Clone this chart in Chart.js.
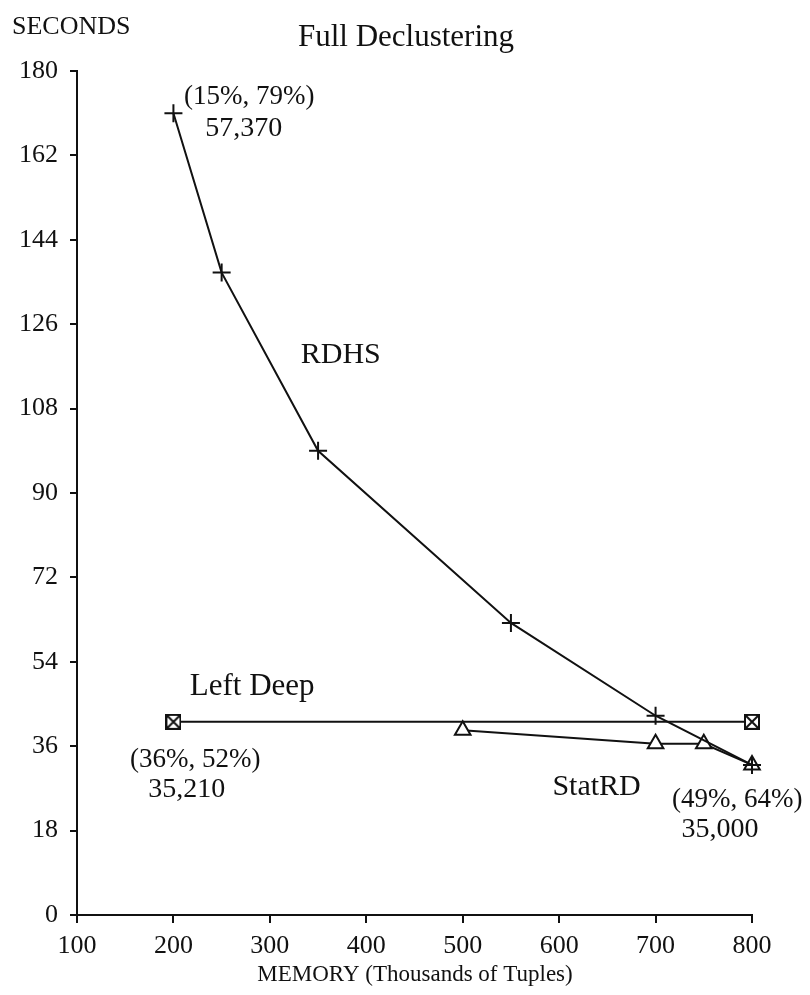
<!DOCTYPE html>
<html>
<head>
<meta charset="utf-8">
<script src="https://cdn.jsdelivr.net/npm/chart.js@4.4.1/dist/chart.umd.min.js"></script>
<style>
  html, body { margin: 0; padding: 0; background: #fff; }
  #wrap { width: 810px; height: 995px; }
</style>
</head>
<body>
<div id="wrap"><canvas id="c" width="810" height="995"></canvas></div>
<script>
// Response time (seconds) against memory (thousands of tuples)
const rdhsMemory = [200, 250, 350, 550, 700, 800];
const rdhsSeconds = [171, 137, 99, 62.3, 42.5, 32];

const leftDeepMemory = [200, 800];
const leftDeepSeconds = [41.2, 41.2];

const statrdMemory = [500, 700, 750, 800];
const statrdSeconds = [39.4, 36.5, 36.5, 32];

const xTickValues = [100, 200, 300, 400, 500, 600, 700, 800];
const yTickValues = [0, 18, 36, 54, 72, 90, 108, 126, 144, 162, 180];

// Text notes placed in data coordinates: [text, memory, seconds, font size]
const notes = [
  ['(15%, 79%)', 211, 174.4, 27],
  ['57,370', 233, 167.8, 28],
  ['RDHS', 332, 119.4, 30],
  ['Left Deep', 217, 48.6, 31],
  ['(36%, 52%)', 155, 33.0, 27],
  ['35,210', 174, 26.7, 28],
  ['StatRD', 593, 27.3, 30],
  ['(49%, 64%)', 717, 24.5, 27],
  ['35,000', 727, 18.3, 28]
];

const INK = '#111';
const SERIF = '"Liberation Serif", "Times New Roman", serif';

function pairs(xs, ys) { return xs.map((x, i) => ({ x: x, y: ys[i] })); }

// Square marker with a cross through it
function boxCross(size) {
  const c = document.createElement('canvas');
  c.width = size; c.height = size;
  const g = c.getContext('2d');
  g.fillStyle = '#fff';
  g.fillRect(1, 1, size - 2, size - 2);
  g.strokeStyle = INK;
  g.lineWidth = 2;
  g.strokeRect(1, 1, size - 2, size - 2);
  g.beginPath();
  g.moveTo(2, 2); g.lineTo(size - 2, size - 2);
  g.moveTo(size - 2, 2); g.lineTo(2, size - 2);
  g.stroke();
  return c;
}

const textPlugin = {
  id: 'textPlugin',
  afterDraw(chart) {
    const ctx = chart.ctx;
    const xs = chart.scales.x, ys = chart.scales.y;
    ctx.save();
    ctx.fillStyle = INK;
    ctx.textBaseline = 'middle';

    ctx.textAlign = 'left';
    ctx.font = '26px ' + SERIF;
    ctx.fillText('SECONDS', 12, 27);

    ctx.textAlign = 'center';
    ctx.font = '31px ' + SERIF;
    ctx.fillText('Full Declustering', 406, 38);

    ctx.font = '23px ' + SERIF;
    ctx.fillText('MEMORY (Thousands of Tuples)', 415, 975);

    ctx.textAlign = 'left';
    notes.forEach(([t, mx, sy, size]) => {
      ctx.font = size + 'px ' + SERIF;
      ctx.fillText(t, xs.getPixelForValue(mx), ys.getPixelForValue(sy));
    });
    ctx.restore();
  }
};

const axisGrid = { drawOnChartArea: false, drawTicks: true, color: INK, lineWidth: 2 };

new Chart(document.getElementById('c'), {
  type: 'scatter',
  data: {
    datasets: [
      {
        label: 'RDHS',
        data: pairs(rdhsMemory, rdhsSeconds),
        showLine: true,
        borderColor: INK,
        borderWidth: 2,
        pointStyle: 'cross',
        pointRadius: 9,
        pointBorderWidth: 2,
        pointBorderColor: INK,
        tension: 0,
        clip: false
      },
      {
        label: 'Left Deep',
        data: pairs(leftDeepMemory, leftDeepSeconds),
        showLine: true,
        borderColor: INK,
        borderWidth: 2,
        pointStyle: boxCross(16),
        clip: false
      },
      {
        label: 'StatRD',
        data: pairs(statrdMemory, statrdSeconds),
        showLine: true,
        borderColor: INK,
        borderWidth: 2,
        pointStyle: 'triangle',
        pointRadius: 9,
        pointBorderWidth: 2,
        pointBorderColor: INK,
        pointBackgroundColor: '#fff',
        tension: 0,
        clip: false
      }
    ]
  },
  options: {
    responsive: false,
    animation: false,
    layout: { padding: { top: 71, left: 0, right: 58, bottom: 0 } },
    plugins: { legend: { display: false }, tooltip: { enabled: false }, title: { display: false } },
    scales: {
      x: {
        type: 'linear',
        min: 100, max: 800,
        afterBuildTicks(s) { s.ticks = xTickValues.map(v => ({ value: v })); },
        afterFit(s) { s.height = 80; },
        ticks: { font: { family: SERIF, size: 26 }, color: INK, padding: 8, maxRotation: 0 },
        grid: Object.assign({ tickLength: 8 }, axisGrid),
        border: { color: INK, width: 2 }
      },
      y: {
        min: 0, max: 180,
        afterBuildTicks(s) { s.ticks = yTickValues.map(v => ({ value: v })); },
        afterFit(s) { s.width = 77; },
        ticks: { font: { family: SERIF, size: 26 }, color: INK, padding: 12 },
        grid: Object.assign({ tickLength: 7 }, axisGrid),
        border: { color: INK, width: 2 }
      }
    }
  },
  plugins: [textPlugin]
});
</script>
</body>
</html>
